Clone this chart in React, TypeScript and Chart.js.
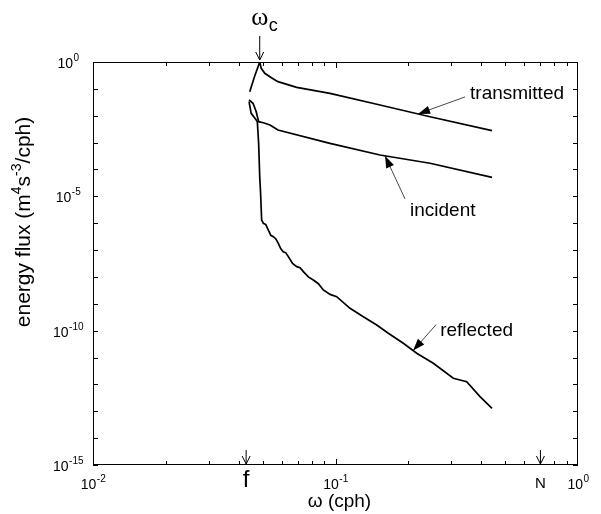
import React, { useEffect, useRef } from "react";
import { Chart, registerables } from "chart.js";

Chart.register(...registerables);

// Frequency (cph) and energy flux (m^4 s^-3 / cph) for each wave component
const transmittedFreq = [0.0443, 0.0461, 0.0487, 0.0494, 0.0511, 0.0544, 0.0579, 0.0692, 0.0949, 0.1526, 0.2453, 0.442];
const transmittedFlux = [7.85e-2, 0.247, 1.0, 0.583, 0.38, 0.26, 0.185, 0.114, 0.0684, 0.0251, 9.2e-3, 2.8e-3];

const incidentFreq = [0.044, 0.0457, 0.0471, 0.0482, 0.0504, 0.0537, 0.0579, 0.0949, 0.1526, 0.2453, 0.442];
const incidentFlux = [3.85e-2, 2.9e-2, 1.41e-2, 6.0e-3, 5.5e-3, 4.52e-3, 2.94e-3, 9.4e-4, 3.46e-4, 1.7e-4, 5.1e-5];

const reflectedFreq = [
  0.044, 0.0449, 0.0471, 0.0476, 0.0482, 0.0487, 0.0491, 0.0496, 0.0504, 0.0516, 0.0528, 0.0541,
  0.0554, 0.0567, 0.0581, 0.0595, 0.0609, 0.0624, 0.0639, 0.0665, 0.0692, 0.0714, 0.0737, 0.0773,
  0.081, 0.085, 0.0891, 0.095, 0.1011, 0.1148, 0.1302, 0.1479, 0.1651, 0.1904, 0.2162, 0.2531,
  0.306, 0.3475, 0.3944, 0.442,
];
const reflectedFlux = [
  3.33e-2, 1.23e-2, 6.9e-3, 6.0e-3, 9.4e-4, 5.4e-5, 1.3e-5, 1.32e-6, 9.9e-7, 8.9e-7, 5.6e-7, 3.55e-7,
  3.15e-7, 2.63e-7, 1.79e-7, 1.12e-7, 8.7e-8, 7.9e-8, 5.7e-8, 3.16e-8, 2.41e-8, 2.19e-8, 1.57e-8, 1.0e-8,
  7.7e-9, 5.6e-9, 3.27e-9, 2.24e-9, 1.84e-9, 6.8e-10, 3.32e-10, 1.63e-10, 8.0e-11, 3.4e-11, 1.44e-11, 6.1e-12,
  1.69e-12, 1.26e-12, 3.5e-13, 1.29e-13,
];

// Axis ranges and labelled decades
const freqRange = [1e-2, 1];
const fluxRange = [1e-15, 1];
const freqTickExponents = [-2, -1, 0];
const fluxTickExponents = [0, -5, -10, -15];

// Marked frequencies: inertial f, critical ω_c, buoyancy N
const inertialFreq = 0.0428;
const criticalFreq = 0.0487;
const buoyancyFreq = 0.70;

// Where each labelling arrow touches its curve
const transmittedArrowFreq = 0.219;
const incidentArrowFreq = 0.16;
const reflectedArrowFreq = 0.209;

const SANS = '"Liberation Sans", Arial, Helvetica, sans-serif';
const SERIF = '"Liberation Serif", "Times New Roman", serif';

const toPoints = (xs: number[], ys: number[]) => xs.map((x, i) => ({ x, y: ys[i] }));

// log-log interpolation of a series at a given frequency
function fluxAt(xs: number[], ys: number[], f: number): number {
  for (let i = xs.length - 2; i >= 0; i--) {
    if (f >= xs[i] && f <= xs[i + 1]) {
      const t = (Math.log10(f) - Math.log10(xs[i])) / (Math.log10(xs[i + 1]) - Math.log10(xs[i]));
      return Math.pow(10, Math.log10(ys[i]) + t * (Math.log10(ys[i + 1]) - Math.log10(ys[i])));
    }
  }
  return ys[ys.length - 1];
}

function drawPower(
  ctx: CanvasRenderingContext2D,
  exp: string,
  cx: number,
  baseline: number,
  baseSize: number,
  expSize: number,
  raise: number
) {
  ctx.textAlign = "left";
  ctx.textBaseline = "alphabetic";
  ctx.font = `${baseSize}px ${SANS}`;
  const wb = ctx.measureText("10").width;
  ctx.font = `${expSize}px ${SANS}`;
  const we = ctx.measureText(exp).width;
  const start = cx - (wb + we) / 2;
  ctx.font = `${baseSize}px ${SANS}`;
  ctx.fillText("10", start, baseline);
  ctx.font = `${expSize}px ${SANS}`;
  ctx.fillText(exp, start + wb + 0.5, baseline - raise);
}

function openArrow(ctx: CanvasRenderingContext2D, x: number, y0: number, y1: number) {
  ctx.beginPath();
  ctx.moveTo(x, y0);
  ctx.lineTo(x, y1);
  ctx.moveTo(x - 4, y1 - 8);
  ctx.lineTo(x, y1);
  ctx.lineTo(x + 4, y1 - 8);
  ctx.stroke();
}

function pointerArrow(ctx: CanvasRenderingContext2D, tx: number, ty: number, sx: number, sy: number) {
  const ang = Math.atan2(ty - sy, tx - sx);
  ctx.save();
  ctx.strokeStyle = "#333";
  ctx.lineWidth = 0.9;
  ctx.beginPath();
  ctx.moveTo(sx, sy);
  ctx.lineTo(tx, ty);
  ctx.stroke();
  const len = 12;
  const half = 4.2;
  const bx = tx - len * Math.cos(ang);
  const by = ty - len * Math.sin(ang);
  ctx.fillStyle = "#000";
  ctx.beginPath();
  ctx.moveTo(tx, ty);
  ctx.lineTo(bx + half * Math.sin(ang), by - half * Math.cos(ang));
  ctx.lineTo(bx - half * Math.sin(ang), by + half * Math.cos(ang));
  ctx.closePath();
  ctx.fill();
  ctx.restore();
}

const framePlugin = {
  id: "framePlugin",
  beforeDraw(chart: any) {
    const ctx = chart.ctx as CanvasRenderingContext2D;
    ctx.save();
    ctx.fillStyle = "#fff";
    ctx.fillRect(0, 0, chart.width, chart.height);
    ctx.restore();
  },
  afterDraw(chart: any) {
    const ctx = chart.ctx as CanvasRenderingContext2D;
    const { left, right, top, bottom } = chart.chartArea;
    const xs = chart.scales.x;
    const ys = chart.scales.y;
    ctx.save();
    ctx.strokeStyle = "#000";
    ctx.fillStyle = "#000";
    ctx.lineWidth = 1;

    // box
    ctx.strokeRect(left + 0.5, top + 0.5, right - left - 1, bottom - top - 1);

    // x ticks (inward, top and bottom)
    ctx.beginPath();
    for (let e = -2; e < 0; e++) {
      for (let m = 1; m <= 9; m++) {
        const px = Math.round(xs.getPixelForValue(m * Math.pow(10, e))) + 0.5;
        const len = m === 1 ? 6 : 4;
        ctx.moveTo(px, bottom);
        ctx.lineTo(px, bottom - len);
        ctx.moveTo(px, top);
        ctx.lineTo(px, top + len);
      }
    }
    // y ticks every decade (inward, left and right)
    for (let e = -15; e <= 0; e++) {
      const py = Math.round(ys.getPixelForValue(Math.pow(10, e))) + 0.5;
      ctx.moveTo(left, py);
      ctx.lineTo(left + 5, py);
      ctx.moveTo(right, py);
      ctx.lineTo(right - 5, py);
    }
    ctx.stroke();

    // tick labels
    freqTickExponents.forEach((e) => {
      const px = xs.getPixelForValue(Math.pow(10, e));
      drawPower(ctx, String(e), px, bottom + 24, 14, 10, 7);
    });
    fluxTickExponents.forEach((e) => {
      const py = ys.getPixelForValue(Math.pow(10, e));
      drawPower(ctx, String(e), 68, py + 6, 14, 10, 7);
    });

    // x-axis title
    ctx.textBaseline = "alphabetic";
    ctx.textAlign = "center";
    ctx.font = `19px ${SANS}`;
    ctx.fillText("ω (cph)", (left + right) / 2 + 4, bottom + 42);
    ctx.textAlign = "left";

    // y-axis title (rotated, with superscripts)
    ctx.save();
    ctx.translate(30, 222);
    ctx.rotate(-Math.PI / 2);
    const parts: [string, number, number][] = [
      ["energy flux (m", 21, 0],
      ["4", 14, 9],
      ["s", 21, 0],
      ["-3", 14, 9],
      ["/cph)", 21, 0],
    ];
    let total = 0;
    parts.forEach(([t, s]) => {
      ctx.font = `${s}px ${SANS}`;
      total += ctx.measureText(t).width;
    });
    let cx = -total / 2;
    parts.forEach(([t, s, r]) => {
      ctx.font = `${s}px ${SANS}`;
      ctx.fillText(t, cx, -r);
      cx += ctx.measureText(t).width;
    });
    ctx.restore();

    // marked frequencies
    ctx.lineWidth = 1;
    const pc = xs.getPixelForValue(criticalFreq);
    openArrow(ctx, pc, top - 26, top - 2);
    ctx.font = `26px ${SERIF}`;
    ctx.textAlign = "center";
    ctx.fillText("ω", pc, top - 37);
    ctx.font = `18px ${SANS}`;
    ctx.textAlign = "left";
    ctx.fillText("c", pc + 9, top - 31);

    const pf = xs.getPixelForValue(inertialFreq);
    openArrow(ctx, pf, bottom - 15, bottom - 1);
    ctx.font = `24px ${SANS}`;
    ctx.textAlign = "center";
    ctx.fillText("f", pf, bottom + 22);

    const pn = xs.getPixelForValue(buoyancyFreq);
    openArrow(ctx, pn, bottom - 15, bottom - 1);
    ctx.font = `15px ${SANS}`;
    ctx.fillText("N", pn, bottom + 23);

    // curve labels with pointers: [text, freq, series, tail offset, text offset from tail]
    ctx.textAlign = "left";
    ctx.font = `19px ${SANS}`;
    const labels: [string, number, number[], number[], number, number, number, number][] = [
      ["transmitted", transmittedArrowFreq, transmittedFreq, transmittedFlux, 47, -17, 5, 2],
      ["incident", incidentArrowFreq, incidentFreq, incidentFlux, 20, 43, 5, 17],
      ["reflected", reflectedArrowFreq, reflectedFreq, reflectedFlux, 23, -26, 4, 11],
    ];
    labels.forEach(([text, f, fx, fy, dx, dy, lx, ly]) => {
      const tx = xs.getPixelForValue(f);
      const ty = ys.getPixelForValue(fluxAt(fx, fy, f));
      const sx = tx + dx;
      const sy = ty + dy;
      pointerArrow(ctx, tx, ty, sx, sy);
      ctx.fillStyle = "#000";
      ctx.fillText(text, sx + lx, sy + ly);
    });

    ctx.restore();
  },
};

export default function App() {
  const ref = useRef<HTMLCanvasElement>(null);

  useEffect(() => {
    const line = (label: string, xs: number[], ys: number[]) => ({
      label,
      data: toPoints(xs, ys),
      borderColor: "#000",
      borderWidth: 1.7,
      pointRadius: 0,
      tension: 0,
      fill: false,
    });
    const chart = new Chart(ref.current!, {
      type: "line",
      data: {
        datasets: [
          line("transmitted", transmittedFreq, transmittedFlux),
          line("incident", incidentFreq, incidentFlux),
          line("reflected", reflectedFreq, reflectedFlux),
        ],
      },
      options: {
        animation: false,
        responsive: false,
        devicePixelRatio: 1,
        layout: { padding: { left: 93, right: 23, top: 62, bottom: 49 } },
        scales: {
          x: { type: "logarithmic", min: freqRange[0], max: freqRange[1], display: false },
          y: { type: "logarithmic", min: fluxRange[0], max: fluxRange[1], display: false },
        },
        plugins: { legend: { display: false }, tooltip: { enabled: false } },
      },
      plugins: [framePlugin],
    });
    return () => chart.destroy();
  }, []);

  return (
    <div style={{ position: "fixed", left: 0, top: 0, width: 601, height: 514, background: "#fff" }}>
      <canvas ref={ref} width={601} height={514} style={{ display: "block" }} />
    </div>
  );
}
